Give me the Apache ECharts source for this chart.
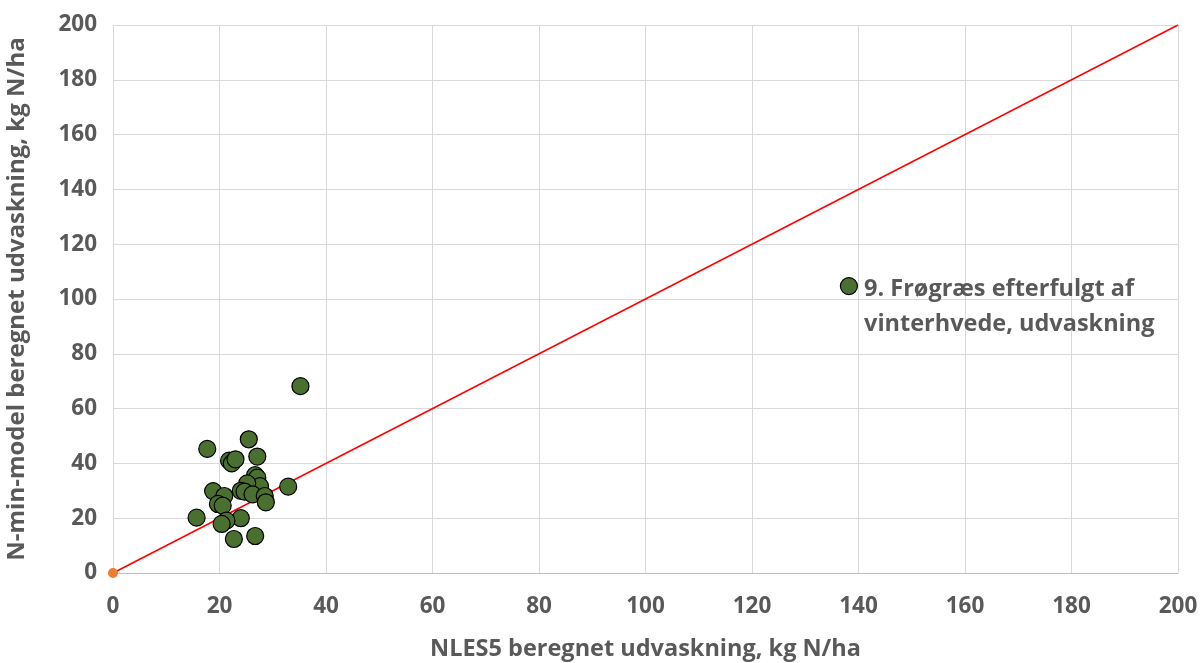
<!DOCTYPE html>
<html>
<head>
<meta charset="utf-8">
<script src="https://cdn.jsdelivr.net/npm/echarts@6/dist/echarts.min.js"></script>
<style>
  html, body { margin: 0; padding: 0; background: #fff; }
  #chart { width: 1201px; height: 663px; }
</style>
</head>
<body>
<div id="chart"></div>
<script>
// NLES5 (x) vs. N-min-model (y) leaching, kg N/ha
const nles5 = [35.2, 25.5, 17.7, 21.8, 22.3, 23.0, 27.1, 32.9, 26.7, 27.1, 27.6, 25.2, 24.0, 24.7, 26.2, 28.5, 28.7, 18.8, 20.9, 19.7, 20.6, 15.7, 24.0, 21.3, 20.4, 22.7, 26.7];
const nmin   = [68.2, 48.8, 45.3, 41.0, 40.0, 41.5, 42.5, 31.5, 35.7, 34.8, 31.7, 32.7, 30.0, 29.7, 28.7, 28.1, 25.8, 29.9, 28.1, 25.2, 24.6, 20.2, 20.0, 19.1, 17.9, 12.4, 13.5];

// Highlighted crop case
const highlightX = [138.2];
const highlightY = [104.7];
const highlightLabel = ['9. Frøgræs efterfulgt af', 'vinterhvede, udvaskning'];

// 1:1 reference line
const lineX = [0, 200];
const lineY = [0, 200];

const axisTicks = [0, 20, 40, 60, 80, 100, 120, 140, 160, 180, 200];

const font = '"Open Sans", "Liberation Sans", sans-serif';
const textColor = '#595959';
const fillGreen = '#4a7030';

const chart = echarts.init(document.getElementById('chart'));

const pts = nles5.map((x, i) => [x, nmin[i]]);
const hl = highlightX.map((x, i) => [x, highlightY[i]]);
const line = lineX.map((x, i) => [x, lineY[i]]);

chart.setOption({
  animation: false,
  backgroundColor: '#fff',
  grid: { left: 113, right: 23, top: 25, bottom: 90, containLabel: false, outerBoundsMode: 'none' },
  xAxis: {
    type: 'value', min: axisTicks[0], max: axisTicks[axisTicks.length - 1], interval: 20,
    name: 'NLES5 beregnet udvaskning, kg N/ha',
    nameLocation: 'middle', nameGap: 64,
    nameTextStyle: { fontFamily: font, fontWeight: 'bold', fontSize: 23.5, color: textColor },
    axisLine: { show: true, lineStyle: { color: '#bfbfbf', width: 1 } },
    axisTick: { show: false },
    axisLabel: { margin: 22, fontFamily: font, fontWeight: 'bold', fontSize: 22.5, color: textColor },
    splitLine: { show: true, lineStyle: { color: '#d9d9d9', width: 1 } }
  },
  yAxis: {
    type: 'value', min: axisTicks[0], max: axisTicks[axisTicks.length - 1], interval: 20,
    name: 'N-min-model beregnet udvaskning, kg N/ha',
    nameLocation: 'middle', nameGap: 84,
    nameTextStyle: { fontFamily: font, fontWeight: 'bold', fontSize: 24, color: textColor },
    axisLine: { show: false },
    axisTick: { show: false },
    axisLabel: { margin: 16, fontFamily: font, fontWeight: 'bold', fontSize: 22.5, color: textColor },
    splitLine: { show: true, lineStyle: { color: '#d9d9d9', width: 1 } }
  },
  series: [
    {
      type: 'line', data: line, symbol: 'none', silent: true,
      lineStyle: { color: '#ff0000', width: 1.5 }, z: 2
    },
    {
      type: 'scatter', data: [[0, 0]], symbol: 'circle', symbolSize: 10,
      itemStyle: { color: '#ed7d31', opacity: 1 }, z: 3
    },
    {
      type: 'scatter', data: pts, symbol: 'circle', symbolSize: 17,
      itemStyle: { color: fillGreen, borderColor: '#000', borderWidth: 1.2, opacity: 1 }, z: 4
    },
    {
      type: 'scatter', data: hl, symbol: 'circle', symbolSize: 17,
      itemStyle: { color: fillGreen, borderColor: '#000', borderWidth: 1.2, opacity: 1 }, z: 4,
      label: {
        show: true, position: 'right', distance: 6,
        align: 'left', verticalAlign: 'top', offset: [0, -14],
        formatter: () => highlightLabel.join('\n'),
        fontFamily: font, fontWeight: 'bold', fontSize: 23.5, lineHeight: 35, color: textColor
      }
    }
  ]
});
</script>
</body>
</html>
